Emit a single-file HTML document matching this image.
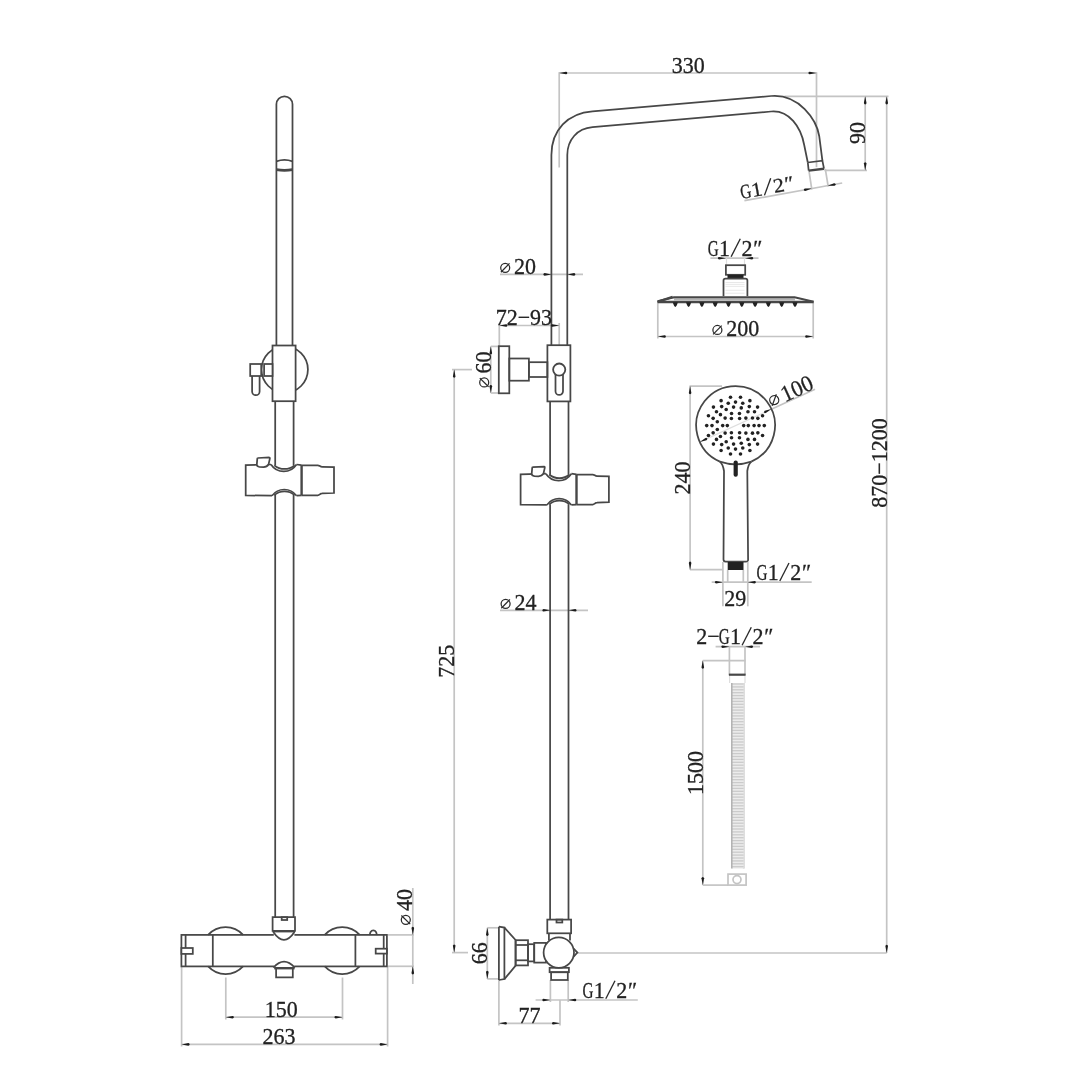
<!DOCTYPE html>
<html><head><meta charset="utf-8"><style>
html,body{margin:0;padding:0;background:#fff;}
svg{display:block;will-change:transform;}
.d{fill:none;stroke:#474747;stroke-width:1.75;}
.thick{stroke-width:2.2;}
.w18{stroke-width:1.8;}
.w16{stroke-width:1.7;}
.w24{stroke-width:2.4;}
.wf{fill:#fff;}
.w28{stroke-width:2.8;}
.thick2{stroke-width:2.6;}
.m{fill:none;stroke:#c4c4c4;stroke-width:1.7;}
.g{fill:none;stroke:#999;stroke-width:1.1;}
.th{fill:none;stroke:#e2e2e2;stroke-width:0.8;}
.fx{fill:none;stroke:#dedede;stroke-width:1.2;}
.r{fill:none;stroke:#cbcbcb;stroke-width:1.3;}
.he{fill:none;stroke:#b0b0b0;stroke-width:1.5;}
.a{fill:#1c1c1c;stroke:none;}
.f{fill:#222;stroke:none;}
.ph{fill:none;stroke:#2a2a2a;stroke-width:1.25;}
.sl{fill:none;stroke:#2a2a2a;stroke-width:1.35;}
.t{font-family:"Liberation Serif",serif;fill:#222;stroke:#222;stroke-width:0.3;}
</style></head><body>
<svg width="1080" height="1080" viewBox="0 0 1080 1080">
<rect width="1080" height="1080" fill="#fff"/>
<line x1="225.80" y1="977.50" x2="225.80" y2="1019.50" class="m"/>
<line x1="342.50" y1="977.50" x2="342.50" y2="1019.50" class="m"/>
<line x1="225.80" y1="1017.20" x2="342.50" y2="1017.20" class="m"/>
<line x1="181.60" y1="967.00" x2="181.60" y2="1046.50" class="m"/>
<line x1="387.60" y1="967.00" x2="387.60" y2="1046.50" class="m"/>
<line x1="181.60" y1="1044.40" x2="387.60" y2="1044.40" class="m"/>
<line x1="388.00" y1="934.90" x2="414.00" y2="934.90" class="m"/>
<line x1="388.00" y1="966.30" x2="414.00" y2="966.30" class="m"/>
<line x1="412.80" y1="888.00" x2="412.80" y2="984.00" class="m"/>
<line x1="559.20" y1="73.00" x2="816.70" y2="73.00" class="m"/>
<line x1="559.20" y1="72.20" x2="559.20" y2="167.50" class="m"/>
<line x1="816.50" y1="72.20" x2="816.50" y2="167.20" class="m"/>
<line x1="784.40" y1="96.30" x2="888.50" y2="96.30" class="m"/>
<line x1="824.40" y1="170.40" x2="867.00" y2="170.40" class="m"/>
<line x1="865.20" y1="96.30" x2="865.20" y2="170.40" class="m"/>
<line x1="744.40" y1="200.70" x2="842.20" y2="183.00" class="m"/>
<line x1="809.00" y1="170.80" x2="811.80" y2="189.50" class="m"/>
<line x1="825.30" y1="168.80" x2="828.20" y2="186.50" class="m"/>
<line x1="886.70" y1="96.30" x2="886.70" y2="952.90" class="m"/>
<line x1="576.50" y1="953.00" x2="886.70" y2="953.00" class="m"/>
<line x1="500.00" y1="274.40" x2="583.00" y2="274.40" class="m"/>
<line x1="499.30" y1="325.50" x2="559.20" y2="325.50" class="m"/>
<line x1="499.30" y1="323.00" x2="499.30" y2="346.00" class="m"/>
<line x1="559.20" y1="323.00" x2="559.20" y2="345.00" class="m"/>
<line x1="490.80" y1="346.40" x2="498.80" y2="346.40" class="m"/>
<line x1="490.80" y1="393.00" x2="498.80" y2="393.00" class="m"/>
<line x1="490.80" y1="346.40" x2="490.80" y2="393.00" class="m"/>
<line x1="452.00" y1="369.60" x2="472.00" y2="369.60" class="m"/>
<line x1="452.00" y1="952.60" x2="468.00" y2="952.60" class="m"/>
<line x1="454.20" y1="369.60" x2="454.20" y2="952.60" class="m"/>
<line x1="500.00" y1="610.30" x2="588.00" y2="610.30" class="m"/>
<line x1="487.30" y1="927.80" x2="498.90" y2="927.80" class="m"/>
<line x1="487.30" y1="978.90" x2="498.90" y2="978.90" class="m"/>
<line x1="487.30" y1="927.80" x2="487.30" y2="978.90" class="m"/>
<line x1="535.60" y1="1000.00" x2="637.80" y2="1000.00" class="m"/>
<line x1="550.40" y1="980.00" x2="550.40" y2="1002.00" class="m"/>
<line x1="568.20" y1="980.00" x2="568.20" y2="1002.00" class="m"/>
<line x1="498.90" y1="1023.30" x2="560.00" y2="1023.30" class="m"/>
<line x1="498.90" y1="980.00" x2="498.90" y2="1025.50" class="m"/>
<line x1="560.00" y1="1000.00" x2="560.00" y2="1025.50" class="m"/>
<line x1="657.80" y1="302.50" x2="657.80" y2="338.50" class="m"/>
<line x1="813.20" y1="302.50" x2="813.20" y2="338.50" class="m"/>
<line x1="657.80" y1="336.50" x2="813.20" y2="336.50" class="m"/>
<line x1="710.40" y1="258.20" x2="758.50" y2="258.20" class="m"/>
<line x1="726.50" y1="258.20" x2="726.50" y2="265.20" class="fx"/>
<line x1="744.50" y1="258.20" x2="744.50" y2="265.20" class="fx"/>
<line x1="701.04" y1="441.38" x2="771.32" y2="409.20" class="fx"/>
<line x1="771.32" y1="409.20" x2="815.00" y2="389.20" class="m"/>
<line x1="689.50" y1="386.10" x2="722.00" y2="386.10" class="m"/>
<line x1="690.00" y1="569.70" x2="722.90" y2="569.70" class="m"/>
<line x1="690.10" y1="386.10" x2="690.10" y2="569.70" class="m"/>
<line x1="722.90" y1="562.00" x2="722.90" y2="606.30" class="m"/>
<line x1="747.80" y1="562.00" x2="747.80" y2="606.30" class="m"/>
<line x1="727.70" y1="570.00" x2="727.70" y2="582.20" class="m"/>
<line x1="743.30" y1="570.00" x2="743.30" y2="582.20" class="m"/>
<line x1="711.70" y1="582.20" x2="811.70" y2="582.20" class="m"/>
<line x1="715.60" y1="646.70" x2="760.00" y2="646.70" class="m"/>
<line x1="729.40" y1="646.70" x2="729.40" y2="675.00" class="m"/>
<line x1="745.00" y1="646.70" x2="745.00" y2="675.00" class="m"/>
<line x1="702.80" y1="660.60" x2="745.60" y2="660.60" class="m"/>
<line x1="729.60" y1="675.50" x2="729.60" y2="683.00" class="fx"/>
<line x1="745.00" y1="675.50" x2="745.00" y2="683.00" class="fx"/>
<line x1="743.70" y1="683.00" x2="743.70" y2="868.60" class="m"/>
<line x1="702.80" y1="885.10" x2="728.00" y2="885.10" class="m"/>
<line x1="702.80" y1="660.60" x2="702.80" y2="885.10" class="m"/>
<path d="M276.4 345.4 L276.4 104.35000000000001 A8.050000000000011 8.050000000000011 0 0 1 292.5 104.35000000000001 L292.5 345.4" class="d"/>
<path d="M276.4 161.3 Q284.45 158.3 292.5 161.3" class="d w18"/>
<path d="M276.4 169.6 Q284.45 171.2 292.5 169.6" class="d w28"/>
<circle cx="284.70" cy="369.60" r="23.20" class="d"/>
<rect x="272.50" y="345.50" width="23.10" height="55.70" class="d wf"/>
<rect x="250.20" y="364.00" width="11.00" height="12.00" class="d wf"/>
<rect x="264.10" y="364.00" width="8.40" height="12.00" class="d wf"/>
<path d="M252.1 376.0 L252.1 391.4 A3.75 3.75 0 0 0 259.6 391.4 L259.6 376.0" class="d"/>
<line x1="275.20" y1="401.20" x2="275.20" y2="465.50" class="d"/>
<line x1="293.60" y1="401.20" x2="293.60" y2="465.50" class="d"/>
<line x1="275.20" y1="495.10" x2="275.20" y2="917.20" class="d"/>
<line x1="293.60" y1="495.10" x2="293.60" y2="917.20" class="d"/>
<path d="M271.00 464.50 L245.70 465.10 L245.70 495.40 L272.00 495.70" class="d"/>
<path d="M296.50 464.50 L301.60 465.10 M296.50 495.70 L301.60 495.40" class="d"/>
<path d="M271.00 464.50 A15.2 15.2 0 0 0 296.50 464.50" class="d w16"/>
<path d="M274.30 465.30 A15.8 15.8 0 0 0 294.60 465.30" class="d"/>
<path d="M272.00 495.70 A15.2 15.2 0 0 1 296.50 495.70" class="d w16"/>
<path d="M274.30 495.10 A15.8 15.8 0 0 1 294.60 495.10" class="d"/>
<line x1="301.60" y1="465.10" x2="301.60" y2="495.40" class="d w24"/>
<path d="M301.60 465.30 L317.80 465.30 C319.60 465.30 320.10 466.90 322.10 466.90 L334.00 467.10 L334.00 493.00 L322.10 493.40 C320.10 493.40 319.60 495.40 317.80 495.40 L301.60 495.40" class="d"/>
<path d="M257.90 458.00 L269.30 457.50 Q270.00 457.60 269.90 458.40 L268.60 464.20 Q267.00 467.00 263.50 467.10 L259.50 467.00 Q256.80 466.60 256.80 464.60 L257.30 458.60 Q257.40 458.00 257.90 458.00 Z" class="d wf"/>
<rect x="181.4" y="934.9" width="205.5" height="31.5" class="d"/>
<line x1="185.60" y1="934.90" x2="185.60" y2="966.40" class="d"/>
<rect x="181.40" y="948.00" width="11.40" height="5.90" class="d wf"/>
<line x1="212.80" y1="934.90" x2="212.80" y2="966.40" class="d"/>
<line x1="355.40" y1="934.90" x2="355.40" y2="966.40" class="d"/>
<line x1="383.70" y1="934.90" x2="383.70" y2="966.40" class="d"/>
<rect x="375.70" y="948.70" width="11.20" height="4.90" class="d wf"/>
<path d="M208.11 934.9 A23.5 23.5 0 0 1 243.09 934.9" class="d"/>
<path d="M208.20 966.4 A23.5 23.5 0 0 0 243.00 966.4" class="d"/>
<path d="M324.71 934.9 A23.5 23.5 0 0 1 359.69 934.9" class="d"/>
<path d="M324.80 966.4 A23.5 23.5 0 0 0 359.60 966.4" class="d"/>
<path d="M370.2 934.9 A3.3 3.3 0 1 1 376.4 934.9" class="d"/>
<rect x="273.8" y="933.4" width="20.6" height="3.2" fill="#fff"/>
<path d="M272.6 931.7 L272.6 917.2 L295.0 917.2 L295.0 931.7" class="d"/>
<line x1="272.60" y1="931.20" x2="295.00" y2="931.20" class="d w24"/>
<rect x="281.70" y="917.20" width="5.50" height="2.80" class="d"/>
<path d="M273.3 932.0 Q284 947.6 294.5 932.0" class="d"/>
<rect x="274.2" y="965.0" width="20.0" height="2.8" fill="#fff"/>
<path d="M273.4 967.6 Q284 955.4 294.8 967.6" class="d"/>
<line x1="274.20" y1="968.20" x2="294.60" y2="968.20" class="d w24"/>
<path d="M276.1 968.4 L276.1 977.4 L292.8 977.4 L292.8 968.4" class="d"/>
<path d="M225.80 1017.20 L232.60 1015.90 L233.51 1016.29 L233.90 1017.20 L233.51 1018.11 L232.60 1018.50Z" class="a"/>
<path d="M342.50 1017.20 L335.70 1018.50 L334.79 1018.11 L334.40 1017.20 L334.79 1016.29 L335.70 1015.90Z" class="a"/>
<text transform="translate(281.30 1016.90) scale(0.957 1)" text-anchor="middle" font-size="23.0" class="t">150</text>
<path d="M181.60 1044.40 L188.40 1043.10 L189.31 1043.49 L189.70 1044.40 L189.31 1045.31 L188.40 1045.70Z" class="a"/>
<path d="M387.60 1044.40 L380.80 1045.70 L379.89 1045.31 L379.50 1044.40 L379.89 1043.49 L380.80 1043.10Z" class="a"/>
<text transform="translate(279.00 1044.00) scale(0.957 1)" text-anchor="middle" font-size="23.0" class="t">263</text>
<path d="M412.80 934.90 L411.50 928.10 L411.89 927.19 L412.80 926.80 L413.71 927.19 L414.10 928.10Z" class="a"/>
<path d="M412.80 966.30 L414.10 973.10 L413.71 974.01 L412.80 974.40 L411.89 974.01 L411.50 973.10Z" class="a"/>
<g transform="translate(412.20 907.50) rotate(-90.00)">
<circle cx="-12.30" cy="-6.4" r="4.5" class="ph"/>
<line x1="-16.60" y1="-2.0" x2="-8.00" y2="-10.8" class="ph"/>
<text transform="translate(-3.40 0) scale(0.957 1)" font-size="23.0" class="t">40</text>
</g>
<path d="M551.4 345.2 L551.4 155 C551.4 130 568 113 592.5 111.3 L771.1 96 C799.1 93.6 816.6 120 819.2 136 L822.4 160.6" class="d"/>
<path d="M567.3 345.2 L567.3 155 C567.3 140 577 128.5 592.5 127.2 L771.1 111.5 C789.1 109.9 800.9 127 804.2 145 L807.8 162.5" class="d"/>
<path d="M807.8 162.5 L822.4 160.6 L824.0 168.7 M808.7 170.6 L807.8 162.5" class="d"/>
<line x1="808.70" y1="170.60" x2="824.00" y2="168.70" class="d w24"/>
<rect x="547.40" y="345.20" width="23.00" height="56.20" class="d"/>
<path d="M555.5 372 L555.5 391.2 A3.75 3.75 0 0 0 563 391.2 L563 372" class="d"/>
<circle cx="559.20" cy="369.60" r="6.10" class="d wf w18"/>
<rect x="498.80" y="346.20" width="10.50" height="47.10" class="d"/>
<rect x="509.30" y="358.50" width="19.60" height="22.20" class="d"/>
<rect x="528.90" y="362.20" width="18.50" height="14.80" class="d"/>
<line x1="550.10" y1="401.40" x2="550.10" y2="474.70" class="d"/>
<line x1="568.50" y1="401.40" x2="568.50" y2="474.70" class="d"/>
<line x1="550.10" y1="504.30" x2="550.10" y2="919.60" class="d"/>
<line x1="568.50" y1="504.30" x2="568.50" y2="919.60" class="d"/>
<path d="M545.90 473.70 L520.60 474.30 L520.60 504.60 L546.90 504.90" class="d"/>
<path d="M571.40 473.70 L576.50 474.30 M571.40 504.90 L576.50 504.60" class="d"/>
<path d="M545.90 473.70 A15.2 15.2 0 0 0 571.40 473.70" class="d w16"/>
<path d="M549.20 474.50 A15.8 15.8 0 0 0 569.50 474.50" class="d"/>
<path d="M546.90 504.90 A15.2 15.2 0 0 1 571.40 504.90" class="d w16"/>
<path d="M549.20 504.30 A15.8 15.8 0 0 1 569.50 504.30" class="d"/>
<line x1="576.50" y1="474.30" x2="576.50" y2="504.60" class="d w24"/>
<path d="M576.50 474.50 L592.70 474.50 C594.50 474.50 595.00 476.10 597.00 476.10 L608.90 476.30 L608.90 502.20 L597.00 502.60 C595.00 502.60 594.50 504.60 592.70 504.60 L576.50 504.60" class="d"/>
<path d="M532.80 467.20 L544.20 466.70 Q544.90 466.80 544.80 467.60 L543.50 473.40 Q541.90 476.20 538.40 476.30 L534.40 476.20 Q531.70 475.80 531.70 473.80 L532.20 467.80 Q532.30 467.20 532.80 467.20 Z" class="d wf"/>
<rect x="547.30" y="919.60" width="23.80" height="13.70" class="d"/>
<rect x="556.50" y="919.60" width="5.80" height="2.90" class="d"/>
<line x1="548.90" y1="933.30" x2="548.90" y2="940.50" class="d"/>
<line x1="570.00" y1="933.30" x2="570.00" y2="940.50" class="d"/>
<path d="M573.6 948.6 L577.4 952.6 L573.6 956.6" class="d"/>
<rect x="549.60" y="967.80" width="19.30" height="4.40" class="d"/>
<rect x="551.10" y="972.20" width="16.70" height="7.80" class="d"/>
<path d="M498.9 926.7 L498.9 980 M498.9 926.7 L504.4 927.6 L504.4 979.1 L498.9 980" class="d"/>
<path d="M504.4 927.6 L515.6 940 L515.6 965.6 L504.4 979.1" class="d"/>
<rect x="515.60" y="940.20" width="12.40" height="25.20" class="d"/>
<line x1="515.60" y1="945.00" x2="528.00" y2="945.00" class="d"/>
<line x1="515.60" y1="960.30" x2="528.00" y2="960.30" class="d"/>
<rect x="528.00" y="944.20" width="6.20" height="17.20" class="d"/>
<rect x="534.20" y="942.90" width="11.80" height="19.70" class="d"/>
<circle cx="558.80" cy="952.60" r="15.20" class="d wf"/>
<path d="M559.20 73.00 L566.00 71.70 L566.91 72.09 L567.30 73.00 L566.91 73.91 L566.00 74.30Z" class="a"/>
<path d="M816.50 73.00 L809.70 74.30 L808.79 73.91 L808.40 73.00 L808.79 72.09 L809.70 71.70Z" class="a"/>
<text transform="translate(688.20 72.50) scale(0.957 1)" text-anchor="middle" font-size="23.0" class="t">330</text>
<path d="M865.20 96.30 L866.50 103.10 L866.11 104.01 L865.20 104.40 L864.29 104.01 L863.90 103.10Z" class="a"/>
<path d="M865.20 170.40 L863.90 163.60 L864.29 162.69 L865.20 162.30 L866.11 162.69 L866.50 163.60Z" class="a"/>
<text transform="translate(864.90 133.00) rotate(-90.00) scale(0.957 1)" text-anchor="middle" font-size="23.0" class="t">90</text>
<path d="M811.80 188.60 L805.34 191.09 L804.38 190.87 L803.83 190.04 L804.05 189.08 L804.88 188.53Z" class="a"/>
<path d="M827.60 185.70 L834.06 183.21 L835.02 183.43 L835.57 184.26 L835.35 185.22 L834.52 185.77Z" class="a"/>
<g transform="translate(742.00 198.80) rotate(-10.26) scale(1 0.88)">
<text transform="translate(-0.62 0) scale(0.66 1)" font-size="23.0" class="t">G</text><text transform="translate(10.56 0) scale(0.957 1)" font-size="23.0" class="t">1</text><line x1="22.70" y1="0.8" x2="31.90" y2="-17.2" class="sl"/><text transform="translate(33.03 0) scale(0.957 1)" font-size="23.0" class="t">2</text><text transform="translate(44.81 0) scale(0.957 1)" font-size="23.0" class="t">″</text>
</g>
<path d="M886.70 96.30 L888.00 103.10 L887.61 104.01 L886.70 104.40 L885.79 104.01 L885.40 103.10Z" class="a"/>
<path d="M886.70 952.90 L885.40 946.10 L885.79 945.19 L886.70 944.80 L887.61 945.19 L888.00 946.10Z" class="a"/>
<text transform="translate(886.60 463.00) rotate(-90.00) scale(0.957 1)" text-anchor="middle" font-size="23.0" class="t">870−1200</text>
<path d="M551.40 274.40 L544.60 275.70 L543.69 275.31 L543.30 274.40 L543.69 273.49 L544.60 273.10Z" class="a"/>
<path d="M567.30 274.40 L574.10 273.10 L575.01 273.49 L575.40 274.40 L575.01 275.31 L574.10 275.70Z" class="a"/>
<g transform="translate(517.50 274.20)">
<circle cx="-12.30" cy="-6.4" r="4.5" class="ph"/>
<line x1="-16.60" y1="-2.0" x2="-8.00" y2="-10.8" class="ph"/>
<text transform="translate(-3.40 0) scale(0.957 1)" font-size="23.0" class="t">20</text>
</g>
<path d="M499.30 325.50 L506.10 324.20 L507.01 324.59 L507.40 325.50 L507.01 326.41 L506.10 326.80Z" class="a"/>
<path d="M559.20 325.50 L552.40 326.80 L551.49 326.41 L551.10 325.50 L551.49 324.59 L552.40 324.20Z" class="a"/>
<text transform="translate(523.90 325.20) scale(0.957 1)" text-anchor="middle" font-size="23.0" class="t">72−93</text>
<path d="M490.80 346.40 L492.10 353.20 L491.71 354.11 L490.80 354.50 L489.89 354.11 L489.50 353.20Z" class="a"/>
<path d="M490.80 393.00 L489.50 386.20 L489.89 385.29 L490.80 384.90 L491.71 385.29 L492.10 386.20Z" class="a"/>
<g transform="translate(490.60 370.10) rotate(-90.00)">
<circle cx="-12.30" cy="-6.4" r="4.5" class="ph"/>
<line x1="-16.60" y1="-2.0" x2="-8.00" y2="-10.8" class="ph"/>
<text transform="translate(-3.40 0) scale(0.957 1)" font-size="23.0" class="t">60</text>
</g>
<path d="M454.20 369.60 L455.50 376.40 L455.11 377.31 L454.20 377.70 L453.29 377.31 L452.90 376.40Z" class="a"/>
<path d="M454.20 952.60 L452.90 945.80 L453.29 944.89 L454.20 944.50 L455.11 944.89 L455.50 945.80Z" class="a"/>
<text transform="translate(454.00 661.30) rotate(-90.00) scale(0.957 1)" text-anchor="middle" font-size="23.0" class="t">725</text>
<path d="M550.40 610.30 L543.60 611.60 L542.69 611.21 L542.30 610.30 L542.69 609.39 L543.60 609.00Z" class="a"/>
<path d="M568.50 610.30 L575.30 609.00 L576.21 609.39 L576.60 610.30 L576.21 611.21 L575.30 611.60Z" class="a"/>
<g transform="translate(517.90 610.20)">
<circle cx="-12.30" cy="-6.4" r="4.5" class="ph"/>
<line x1="-16.60" y1="-2.0" x2="-8.00" y2="-10.8" class="ph"/>
<text transform="translate(-3.40 0) scale(0.957 1)" font-size="23.0" class="t">24</text>
</g>
<path d="M487.30 927.80 L488.60 934.60 L488.21 935.51 L487.30 935.90 L486.39 935.51 L486.00 934.60Z" class="a"/>
<path d="M487.30 978.90 L486.00 972.10 L486.39 971.19 L487.30 970.80 L488.21 971.19 L488.60 972.10Z" class="a"/>
<text transform="translate(487.00 953.30) rotate(-90.00) scale(0.957 1)" text-anchor="middle" font-size="23.0" class="t">66</text>
<path d="M550.40 1000.00 L543.60 1001.30 L542.69 1000.91 L542.30 1000.00 L542.69 999.09 L543.60 998.70Z" class="a"/>
<path d="M568.20 1000.00 L575.00 998.70 L575.91 999.09 L576.30 1000.00 L575.91 1000.91 L575.00 1001.30Z" class="a"/>
<g transform="translate(583.10 998.00)">
<text transform="translate(-0.62 0) scale(0.66 1)" font-size="23.0" class="t">G</text><text transform="translate(10.56 0) scale(0.957 1)" font-size="23.0" class="t">1</text><line x1="22.70" y1="0.8" x2="31.90" y2="-17.2" class="sl"/><text transform="translate(33.03 0) scale(0.957 1)" font-size="23.0" class="t">2</text><text transform="translate(44.81 0) scale(0.957 1)" font-size="23.0" class="t">″</text>
</g>
<path d="M498.90 1023.30 L505.70 1022.00 L506.61 1022.39 L507.00 1023.30 L506.61 1024.21 L505.70 1024.60Z" class="a"/>
<path d="M560.00 1023.30 L553.20 1024.60 L552.29 1024.21 L551.90 1023.30 L552.29 1022.39 L553.20 1022.00Z" class="a"/>
<text transform="translate(529.50 1023.20) scale(0.957 1)" text-anchor="middle" font-size="23.0" class="t">77</text>
<rect x="725.90" y="265.20" width="19.30" height="9.60" class="d"/>
<rect x="727.5" y="274.8" width="16" height="3.7" class="f"/>
<path d="M723.5 296.3 L723.5 280.5 Q723.5 278.5 725.5 278.5 L745.4 278.5 Q747.4 278.5 747.4 280.5 L747.4 296.3" class="d"/>
<line x1="725.50" y1="282.50" x2="744.50" y2="282.50" class="th"/>
<line x1="725.50" y1="284.40" x2="744.50" y2="284.40" class="th"/>
<line x1="725.50" y1="286.40" x2="744.50" y2="286.40" class="th"/>
<line x1="725.50" y1="290.30" x2="744.50" y2="290.30" class="th"/>
<line x1="725.50" y1="293.20" x2="744.50" y2="293.20" class="th"/>
<path d="M657.8 301.2 L674 297.3 L794.6 297.3 L813.6 301.7" class="d thick"/>
<line x1="674.00" y1="299.70" x2="795.00" y2="299.70" class="g"/>
<line x1="657.80" y1="302.00" x2="813.60" y2="302.00" class="d thick2"/>
<path d="M657.3 301.9 L672.6 296.9" class="d thick"/>
<path d="M672.70 302.3 L677.90 302.3 Q676.50 306.9 675.30 306.9 Q674.10 306.9 672.70 302.3 Z" class="f"/>
<path d="M686.00 302.3 L691.20 302.3 Q689.80 306.9 688.60 306.9 Q687.40 306.9 686.00 302.3 Z" class="f"/>
<path d="M699.30 302.3 L704.50 302.3 Q703.10 306.9 701.90 306.9 Q700.70 306.9 699.30 302.3 Z" class="f"/>
<path d="M712.60 302.3 L717.80 302.3 Q716.40 306.9 715.20 306.9 Q714.00 306.9 712.60 302.3 Z" class="f"/>
<path d="M725.90 302.3 L731.10 302.3 Q729.70 306.9 728.50 306.9 Q727.30 306.9 725.90 302.3 Z" class="f"/>
<path d="M739.20 302.3 L744.40 302.3 Q743.00 306.9 741.80 306.9 Q740.60 306.9 739.20 302.3 Z" class="f"/>
<path d="M752.50 302.3 L757.70 302.3 Q756.30 306.9 755.10 306.9 Q753.90 306.9 752.50 302.3 Z" class="f"/>
<path d="M765.80 302.3 L771.00 302.3 Q769.60 306.9 768.40 306.9 Q767.20 306.9 765.80 302.3 Z" class="f"/>
<path d="M779.10 302.3 L784.30 302.3 Q782.90 306.9 781.70 306.9 Q780.50 306.9 779.10 302.3 Z" class="f"/>
<path d="M792.40 302.3 L797.60 302.3 Q796.20 306.9 795.00 306.9 Q793.80 306.9 792.40 302.3 Z" class="f"/>
<path d="M657.80 336.50 L664.60 335.20 L665.51 335.59 L665.90 336.50 L665.51 337.41 L664.60 337.80Z" class="a"/>
<path d="M813.20 336.50 L806.40 337.80 L805.49 337.41 L805.10 336.50 L805.49 335.59 L806.40 335.20Z" class="a"/>
<g transform="translate(735.20 336.40)">
<circle cx="-17.81" cy="-6.4" r="4.5" class="ph"/>
<line x1="-22.11" y1="-2.0" x2="-13.51" y2="-10.8" class="ph"/>
<text transform="translate(-8.91 0) scale(0.957 1)" font-size="23.0" class="t">200</text>
</g>
<path d="M725.90 258.20 L719.10 259.50 L718.19 259.11 L717.80 258.20 L718.19 257.29 L719.10 256.90Z" class="a"/>
<path d="M745.20 258.20 L752.00 256.90 L752.91 257.29 L753.30 258.20 L752.91 259.11 L752.00 259.50Z" class="a"/>
<g transform="translate(708.40 256.00)">
<text transform="translate(-0.62 0) scale(0.66 1)" font-size="23.0" class="t">G</text><text transform="translate(10.56 0) scale(0.957 1)" font-size="23.0" class="t">1</text><line x1="22.70" y1="0.8" x2="31.90" y2="-17.2" class="sl"/><text transform="translate(33.03 0) scale(0.957 1)" font-size="23.0" class="t">2</text><text transform="translate(44.81 0) scale(0.957 1)" font-size="23.0" class="t">″</text>
</g>
<path d="M751.31 461.63 A39.4 39.4 0 1 0 719.89 461.63" class="d"/>
<path d="M719.89 461.63 Q722.89 464.13 724 471 L723.5 559.5 Q723.5 561.5 725.5 561.5 L746.2 561.5 Q748.2 561.5 748.1 559.5 L747.3 471 Q748.31 464.13 751.31 461.63" class="d"/>
<path d="M719.89 461.63 Q735.6 466.9 751.31 461.63" class="d"/>
<rect x="733.6" y="460.4" width="4.2" height="16.3" rx="2" class="f"/>
<rect x="727.7" y="562" width="15.8" height="8" class="f"/>
<circle cx="764.30" cy="425.60" r="1.8" class="f"/>
<circle cx="762.56" cy="435.45" r="1.8" class="f"/>
<circle cx="757.56" cy="444.11" r="1.8" class="f"/>
<circle cx="749.90" cy="450.54" r="1.8" class="f"/>
<circle cx="740.50" cy="453.96" r="1.8" class="f"/>
<circle cx="730.50" cy="453.96" r="1.8" class="f"/>
<circle cx="721.10" cy="450.54" r="1.8" class="f"/>
<circle cx="713.44" cy="444.11" r="1.8" class="f"/>
<circle cx="708.44" cy="435.45" r="1.8" class="f"/>
<circle cx="706.70" cy="425.60" r="1.8" class="f"/>
<circle cx="708.44" cy="415.75" r="1.8" class="f"/>
<circle cx="713.44" cy="407.09" r="1.8" class="f"/>
<circle cx="721.10" cy="400.66" r="1.8" class="f"/>
<circle cx="730.50" cy="397.24" r="1.8" class="f"/>
<circle cx="740.50" cy="397.24" r="1.8" class="f"/>
<circle cx="749.90" cy="400.66" r="1.8" class="f"/>
<circle cx="757.56" cy="407.09" r="1.8" class="f"/>
<circle cx="762.56" cy="415.75" r="1.8" class="f"/>
<circle cx="759.00" cy="425.60" r="1.8" class="f"/>
<circle cx="757.85" cy="432.86" r="1.8" class="f"/>
<circle cx="754.51" cy="439.41" r="1.8" class="f"/>
<circle cx="749.31" cy="444.61" r="1.8" class="f"/>
<circle cx="742.76" cy="447.95" r="1.8" class="f"/>
<circle cx="735.50" cy="449.10" r="1.8" class="f"/>
<circle cx="728.24" cy="447.95" r="1.8" class="f"/>
<circle cx="721.69" cy="444.61" r="1.8" class="f"/>
<circle cx="716.49" cy="439.41" r="1.8" class="f"/>
<circle cx="713.15" cy="432.86" r="1.8" class="f"/>
<circle cx="712.00" cy="425.60" r="1.8" class="f"/>
<circle cx="713.15" cy="418.34" r="1.8" class="f"/>
<circle cx="716.49" cy="411.79" r="1.8" class="f"/>
<circle cx="721.69" cy="406.59" r="1.8" class="f"/>
<circle cx="728.24" cy="403.25" r="1.8" class="f"/>
<circle cx="735.50" cy="402.10" r="1.8" class="f"/>
<circle cx="742.76" cy="403.25" r="1.8" class="f"/>
<circle cx="749.31" cy="406.59" r="1.8" class="f"/>
<circle cx="754.51" cy="411.79" r="1.8" class="f"/>
<circle cx="757.85" cy="418.34" r="1.8" class="f"/>
<circle cx="754.10" cy="425.60" r="1.8" class="f"/>
<circle cx="752.49" cy="433.17" r="1.8" class="f"/>
<circle cx="747.95" cy="439.42" r="1.8" class="f"/>
<circle cx="741.25" cy="443.29" r="1.8" class="f"/>
<circle cx="733.56" cy="444.10" r="1.8" class="f"/>
<circle cx="726.20" cy="441.71" r="1.8" class="f"/>
<circle cx="720.45" cy="436.53" r="1.8" class="f"/>
<circle cx="717.31" cy="429.47" r="1.8" class="f"/>
<circle cx="717.31" cy="421.73" r="1.8" class="f"/>
<circle cx="720.45" cy="414.67" r="1.8" class="f"/>
<circle cx="726.20" cy="409.49" r="1.8" class="f"/>
<circle cx="733.56" cy="407.10" r="1.8" class="f"/>
<circle cx="741.25" cy="407.91" r="1.8" class="f"/>
<circle cx="747.95" cy="411.78" r="1.8" class="f"/>
<circle cx="752.49" cy="418.03" r="1.8" class="f"/>
<circle cx="748.30" cy="425.60" r="1.8" class="f"/>
<circle cx="745.86" cy="433.12" r="1.8" class="f"/>
<circle cx="739.46" cy="437.77" r="1.8" class="f"/>
<circle cx="731.54" cy="437.77" r="1.8" class="f"/>
<circle cx="725.14" cy="433.12" r="1.8" class="f"/>
<circle cx="722.70" cy="425.60" r="1.8" class="f"/>
<circle cx="725.14" cy="418.08" r="1.8" class="f"/>
<circle cx="731.54" cy="413.43" r="1.8" class="f"/>
<circle cx="739.46" cy="413.43" r="1.8" class="f"/>
<circle cx="745.86" cy="418.08" r="1.8" class="f"/>
<circle cx="743.70" cy="425.60" r="1.8" class="f"/>
<circle cx="739.60" cy="432.70" r="1.8" class="f"/>
<circle cx="731.40" cy="432.70" r="1.8" class="f"/>
<circle cx="727.30" cy="425.60" r="1.8" class="f"/>
<circle cx="731.40" cy="418.50" r="1.8" class="f"/>
<circle cx="739.60" cy="418.50" r="1.8" class="f"/>
<path d="M699.78 441.90 L705.42 437.89 L706.41 437.86 L707.14 438.53 L707.17 439.52 L706.50 440.25Z" class="a"/>
<path d="M771.42 409.10 L765.78 413.11 L764.79 413.14 L764.06 412.47 L764.03 411.48 L764.70 410.75Z" class="a"/>
<g transform="translate(793.10 398.50) rotate(-24.60)">
<circle cx="-17.81" cy="-6.4" r="4.5" class="ph"/>
<line x1="-22.11" y1="-2.0" x2="-13.51" y2="-10.8" class="ph"/>
<text transform="translate(-8.91 0) scale(0.957 1)" font-size="23.0" class="t">100</text>
</g>
<path d="M690.10 386.10 L691.40 392.90 L691.01 393.81 L690.10 394.20 L689.19 393.81 L688.80 392.90Z" class="a"/>
<path d="M690.10 569.70 L688.80 562.90 L689.19 561.99 L690.10 561.60 L691.01 561.99 L691.40 562.90Z" class="a"/>
<text transform="translate(690.00 478.10) rotate(-90.00) scale(0.957 1)" text-anchor="middle" font-size="23.0" class="t">240</text>
<path d="M722.90 582.20 L716.10 583.50 L715.19 583.11 L714.80 582.20 L715.19 581.29 L716.10 580.90Z" class="a"/>
<path d="M747.80 582.20 L754.60 580.90 L755.51 581.29 L755.90 582.20 L755.51 583.11 L754.60 583.50Z" class="a"/>
<text transform="translate(735.30 606.00) scale(0.957 1)" text-anchor="middle" font-size="23.0" class="t">29</text>
<g transform="translate(757.10 580.20)">
<text transform="translate(-0.62 0) scale(0.66 1)" font-size="23.0" class="t">G</text><text transform="translate(10.56 0) scale(0.957 1)" font-size="23.0" class="t">1</text><line x1="22.70" y1="0.8" x2="31.90" y2="-17.2" class="sl"/><text transform="translate(33.03 0) scale(0.957 1)" font-size="23.0" class="t">2</text><text transform="translate(44.81 0) scale(0.957 1)" font-size="23.0" class="t">″</text>
</g>
<g transform="translate(697.20 644.40)">
<text transform="translate(-0.97 0) scale(0.957 1)" font-size="23.0" class="t">2</text>
<text transform="translate(10.00 0) scale(0.957 1)" font-size="23.0" class="t">−</text>
<text transform="translate(21.58 0) scale(0.66 1)" font-size="23.0" class="t">G</text><text transform="translate(32.76 0) scale(0.957 1)" font-size="23.0" class="t">1</text><line x1="44.90" y1="0.8" x2="54.10" y2="-17.2" class="sl"/><text transform="translate(55.23 0) scale(0.957 1)" font-size="23.0" class="t">2</text><text transform="translate(67.01 0) scale(0.957 1)" font-size="23.0" class="t">″</text>
</g>
<path d="M729.40 646.70 L722.60 648.00 L721.69 647.61 L721.30 646.70 L721.69 645.79 L722.60 645.40Z" class="a"/>
<path d="M745.00 646.70 L751.80 645.40 L752.71 645.79 L753.10 646.70 L752.71 647.61 L751.80 648.00Z" class="a"/>
<line x1="728.90" y1="674.70" x2="745.60" y2="674.70" class="d thick"/>
<rect x="731.6" y="683" width="12.2" height="185.6" fill="#ececec"/>
<line x1="731.80" y1="684.00" x2="743.60" y2="684.00" class="r"/>
<line x1="731.80" y1="686.90" x2="743.60" y2="686.90" class="r"/>
<line x1="731.80" y1="689.80" x2="743.60" y2="689.80" class="r"/>
<line x1="731.80" y1="692.70" x2="743.60" y2="692.70" class="r"/>
<line x1="731.80" y1="695.60" x2="743.60" y2="695.60" class="r"/>
<line x1="731.80" y1="698.50" x2="743.60" y2="698.50" class="r"/>
<line x1="731.80" y1="701.40" x2="743.60" y2="701.40" class="r"/>
<line x1="731.80" y1="704.30" x2="743.60" y2="704.30" class="r"/>
<line x1="731.80" y1="707.20" x2="743.60" y2="707.20" class="r"/>
<line x1="731.80" y1="710.10" x2="743.60" y2="710.10" class="r"/>
<line x1="731.80" y1="713.00" x2="743.60" y2="713.00" class="r"/>
<line x1="731.80" y1="715.90" x2="743.60" y2="715.90" class="r"/>
<line x1="731.80" y1="718.80" x2="743.60" y2="718.80" class="r"/>
<line x1="731.80" y1="721.70" x2="743.60" y2="721.70" class="r"/>
<line x1="731.80" y1="724.60" x2="743.60" y2="724.60" class="r"/>
<line x1="731.80" y1="727.50" x2="743.60" y2="727.50" class="r"/>
<line x1="731.80" y1="730.40" x2="743.60" y2="730.40" class="r"/>
<line x1="731.80" y1="733.30" x2="743.60" y2="733.30" class="r"/>
<line x1="731.80" y1="736.20" x2="743.60" y2="736.20" class="r"/>
<line x1="731.80" y1="739.10" x2="743.60" y2="739.10" class="r"/>
<line x1="731.80" y1="742.00" x2="743.60" y2="742.00" class="r"/>
<line x1="731.80" y1="744.90" x2="743.60" y2="744.90" class="r"/>
<line x1="731.80" y1="747.80" x2="743.60" y2="747.80" class="r"/>
<line x1="731.80" y1="750.70" x2="743.60" y2="750.70" class="r"/>
<line x1="731.80" y1="753.60" x2="743.60" y2="753.60" class="r"/>
<line x1="731.80" y1="756.50" x2="743.60" y2="756.50" class="r"/>
<line x1="731.80" y1="759.40" x2="743.60" y2="759.40" class="r"/>
<line x1="731.80" y1="762.30" x2="743.60" y2="762.30" class="r"/>
<line x1="731.80" y1="765.20" x2="743.60" y2="765.20" class="r"/>
<line x1="731.80" y1="768.10" x2="743.60" y2="768.10" class="r"/>
<line x1="731.80" y1="771.00" x2="743.60" y2="771.00" class="r"/>
<line x1="731.80" y1="773.90" x2="743.60" y2="773.90" class="r"/>
<line x1="731.80" y1="776.80" x2="743.60" y2="776.80" class="r"/>
<line x1="731.80" y1="779.70" x2="743.60" y2="779.70" class="r"/>
<line x1="731.80" y1="782.60" x2="743.60" y2="782.60" class="r"/>
<line x1="731.80" y1="785.50" x2="743.60" y2="785.50" class="r"/>
<line x1="731.80" y1="788.40" x2="743.60" y2="788.40" class="r"/>
<line x1="731.80" y1="791.30" x2="743.60" y2="791.30" class="r"/>
<line x1="731.80" y1="794.20" x2="743.60" y2="794.20" class="r"/>
<line x1="731.80" y1="797.10" x2="743.60" y2="797.10" class="r"/>
<line x1="731.80" y1="800.00" x2="743.60" y2="800.00" class="r"/>
<line x1="731.80" y1="802.90" x2="743.60" y2="802.90" class="r"/>
<line x1="731.80" y1="805.80" x2="743.60" y2="805.80" class="r"/>
<line x1="731.80" y1="808.70" x2="743.60" y2="808.70" class="r"/>
<line x1="731.80" y1="811.60" x2="743.60" y2="811.60" class="r"/>
<line x1="731.80" y1="814.50" x2="743.60" y2="814.50" class="r"/>
<line x1="731.80" y1="817.40" x2="743.60" y2="817.40" class="r"/>
<line x1="731.80" y1="820.30" x2="743.60" y2="820.30" class="r"/>
<line x1="731.80" y1="823.20" x2="743.60" y2="823.20" class="r"/>
<line x1="731.80" y1="826.10" x2="743.60" y2="826.10" class="r"/>
<line x1="731.80" y1="829.00" x2="743.60" y2="829.00" class="r"/>
<line x1="731.80" y1="831.90" x2="743.60" y2="831.90" class="r"/>
<line x1="731.80" y1="834.80" x2="743.60" y2="834.80" class="r"/>
<line x1="731.80" y1="837.70" x2="743.60" y2="837.70" class="r"/>
<line x1="731.80" y1="840.60" x2="743.60" y2="840.60" class="r"/>
<line x1="731.80" y1="843.50" x2="743.60" y2="843.50" class="r"/>
<line x1="731.80" y1="846.40" x2="743.60" y2="846.40" class="r"/>
<line x1="731.80" y1="849.30" x2="743.60" y2="849.30" class="r"/>
<line x1="731.80" y1="852.20" x2="743.60" y2="852.20" class="r"/>
<line x1="731.80" y1="855.10" x2="743.60" y2="855.10" class="r"/>
<line x1="731.80" y1="858.00" x2="743.60" y2="858.00" class="r"/>
<line x1="731.80" y1="860.90" x2="743.60" y2="860.90" class="r"/>
<line x1="731.80" y1="863.80" x2="743.60" y2="863.80" class="r"/>
<line x1="731.80" y1="866.70" x2="743.60" y2="866.70" class="r"/>
<line x1="731.80" y1="683.00" x2="731.80" y2="868.60" class="he"/>
<rect x="728.00" y="874.10" width="18.10" height="11.00" class="m"/>
<circle cx="737.00" cy="879.60" r="4.00" class="m"/>
<path d="M702.80 660.60 L704.10 667.40 L703.71 668.31 L702.80 668.70 L701.89 668.31 L701.50 667.40Z" class="a"/>
<path d="M702.80 885.10 L701.50 878.30 L701.89 877.39 L702.80 877.00 L703.71 877.39 L704.10 878.30Z" class="a"/>
<text transform="translate(703.00 772.90) rotate(-90.00) scale(0.957 1)" text-anchor="middle" font-size="23.0" class="t">1500</text>
</svg>
</body></html>
